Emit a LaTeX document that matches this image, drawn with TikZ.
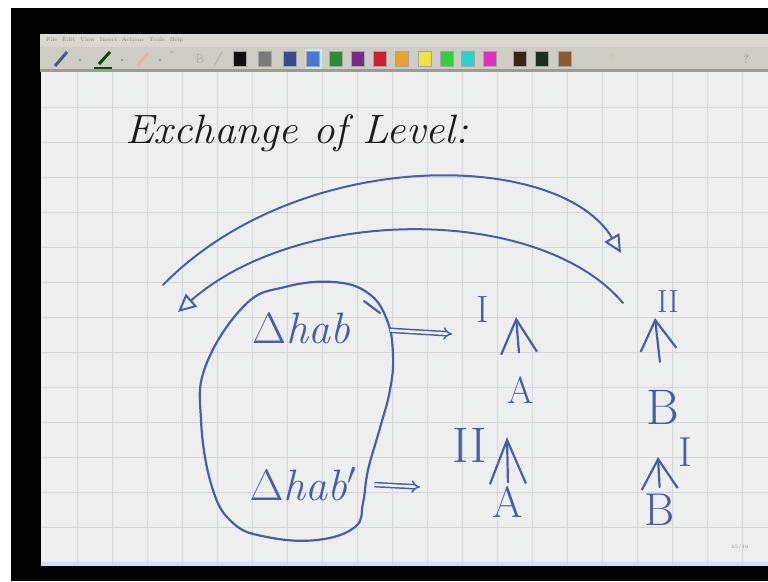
\RequirePackage{fix-cm}
\documentclass[tikz,border=0pt]{standalone}
\usepackage{tikz}
\usetikzlibrary{arrows.meta}
\definecolor{inkblue}{HTML}{4A5DA8}
\definecolor{inkblack}{HTML}{1C1C1C}
\definecolor{canvas}{HTML}{EDEFEF}
\definecolor{gridgray}{HTML}{D3D7DA}
\definecolor{barface}{HTML}{D8D8CF}
\definecolor{barline}{HTML}{9C9C94}

\begin{document}
\begin{tikzpicture}[x=1pt, y=-1pt,
  ink/.style={draw=inkblue, line width=2.2pt, line cap=round, line join=round},
  hand/.style={text=inkblue, inner sep=0pt, font=\fontsize{#1}{#1}\selectfont},
  uparrow/.style={ink, -{Straight Barb[length=#1, width=36pt]}},
  implies/.style={draw=inkblue, line width=1.5pt, double=canvas, double distance=2.6pt, -{Implies}},
  longarc/.style={ink, line width=2pt, -{Triangle[open, length=18pt, width=17pt]}},
  swatch/.style={minimum width=13pt, minimum height=15pt, inner sep=0pt, draw=black!35}
]
\useasboundingbox (0,0) rectangle (768,581);
\fill[white] (0,0) rectangle (768,581);
\fill[black] (11,8) rectangle (768,581);

% window bars
\fill[barface] (40,34) rectangle (768,47);
\fill[barface!95!black] (40,47) rectangle (768,70);
\fill[barline] (40,69) rectangle (768,72);
\node[anchor=west, inner sep=0pt, text=black!50, font=\fontsize{5.5}{6}\selectfont] (menu) at (46,40.5)
  {File\hspace{5pt}Edit\hspace{5pt}View\hspace{5pt}Insert\hspace{5pt}Actions\hspace{5pt}Tools\hspace{5pt}Help};

% pens
\draw[line width=3pt, color=black!55!cyan!60!blue] (55,66) -- (67,52);
\draw[line width=3pt, color=black!70!green] (99,64) -- (110,52);
\draw[line width=2pt, color=black!70!green] (94,68) -- (112,68);
\draw[line width=2.5pt, color=red!35!white] (138,65) -- (148,53);
\foreach \px in {80,122,160} \fill[black!45] (\px,60) circle (1.2pt);
\node[text=black!30, font=\fontsize{13}{13}\selectfont\sffamily] (bold) at (200,59) {B};
\draw[black!30, line width=1pt] (214,66) -- (222,52);
\node[text=black!40, font=\fontsize{6}{6}\selectfont] (star) at (172,53) {*};

% colour swatches
\fill[cyan!25!white] (305,49) rectangle (322,69);
\foreach \sx/\sc in {240/111111, 265/7A7A7A, 290/3B4A8A, 313/4A78D0, 336/2E8B3A,
  358/7A2A8A, 380/D02030, 402/E8A030, 425/F0E040, 447/30D040, 468/30D0C8,
  490/E030C0, 520/3A2418, 542/1A3020, 565/8A5A30}{
  \definecolor{swcol}{HTML}{\sc}
  \node[swatch, fill=swcol] at (\sx,59) {};
}
\node[text=yellow!60!black!60, font=\fontsize{12}{12}\selectfont] (hint) at (612,59) {?};
\node[text=black!45, font=\fontsize{12}{12}\selectfont] (help) at (746,59) {?};

% canvas and grid
\fill[canvas] (41,72) rectangle (768,562);
\foreach \gx in {77,112,...,742} \draw[gridgray, line width=0.7pt] (\gx,72) -- (\gx,562);
\foreach \gy in {107,142,...,527} \draw[gridgray, line width=0.7pt] (41,\gy) -- (768,\gy);
\fill[blue!15!white] (41,562) rectangle (768,566);
\node[anchor=east, text=black!45, font=\fontsize{5}{5}\selectfont] (page) at (752,547) {15/16};

% title
\node[anchor=base west, inner sep=0pt, xscale=1.05, text=inkblack, font=\fontsize{41}{44}\selectfont\itshape] (title) at (125,143) {Exchange of Level:};

% the two levels
\node[hand=44, anchor=base] (dh1) at (301,343) {$\Delta$\textit{hab}};
\node[hand=44, anchor=base] (dh2) at (303,500) {$\Delta$\textit{hab}$'$};
\draw[ink] plot[smooth cycle, tension=0.7] coordinates {(245,305) (285,287) (333,282) (368,293)
  (387,320) (393,355) (390,390) (380,428) (368,470) (363,503) (355,527) (317,540) (267,537)
  (233,523) (212,487) (201,420) (206,365)};
\draw[ink] (364,301) -- (380,313);

% exchange arcs
\coordinate (ul) at (163,285);
\coordinate (ur) at (621,253);
\coordinate (lr) at (623,303);
\coordinate (ll) at (178,312);
\draw[longarc] (ul) .. controls (300,145) and (560,150) .. (ur);
\draw[longarc] (lr) .. controls (540,205) and (300,205) .. (ll);

% states and levels
\node[hand=38] (lvI1) at (483,310) {I};
\node[hand=38] (a1) at (521,390) {A};
\node[hand=50] (lvII1) at (470,445) {II};
\node[hand=44] (a2) at (508,502) {A};
\node[hand=32] (lvII2) at (668,302) {II};
\node[hand=50] (b1) at (663,407) {B};
\node[hand=42] (lvI2) at (685,452) {I};
\node[hand=46] (b2) at (660,510) {B};

\coordinate (t1) at (516,317);
\coordinate (t2) at (507,437);
\coordinate (t3) at (655,318);
\coordinate (t4) at (658,457);
\draw[uparrow=34pt, shorten <=24pt] (a1.north) -- (t1);
\draw[uparrow=44pt, shorten <=4pt] (a2.north) -- (t2);
\draw[uparrow=30pt, shorten <=28pt] (b1.north) -- (t3);
\draw[uparrow=30pt, shorten <=7pt] (b2.north) -- (t4);

\coordinate (r1) at (452,334);
\coordinate (r2) at (420,487);
\draw[implies, shorten <=40pt] (dh1.east) -- (r1);
\draw[implies, shorten <=18pt] (dh2.east) -- (r2);
\end{tikzpicture}
\end{document}
